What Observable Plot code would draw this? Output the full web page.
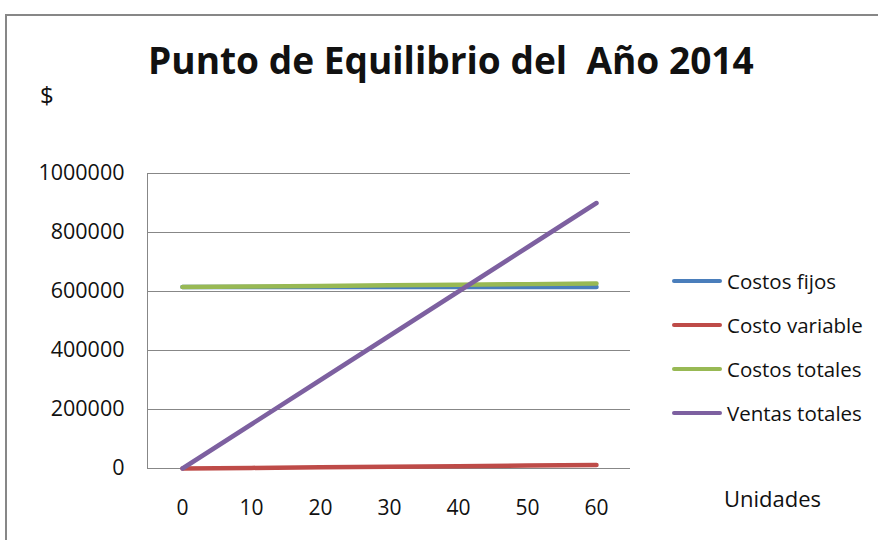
<!DOCTYPE html>
<html>
<head>
<meta charset="utf-8">
<script src="https://cdn.jsdelivr.net/npm/d3@7"></script>
<script src="https://cdn.jsdelivr.net/npm/@observablehq/plot@0.6"></script>
<style>
  body { margin: 0; background: #fff; }
  #wrap { position: relative; width: 878px; height: 540px; overflow: hidden; font-family: "Open Sans", sans-serif; color: #111; }
  #border { position: absolute; left: 5px; top: 14px; width: 900px; height: 600px; border: 2px solid #878787; box-sizing: border-box; }
  #chart { position: absolute; left: 0; top: 0; }
  .txt { position: absolute; white-space: pre; line-height: 1; }
  #title { font-weight: 700; left: 148px; top: 41px; }
  #ylab { left: 40px; top: 83px; font-size: 24px; }
  #xlab { left: 724px; top: 487px; font-size: 22px; }
  .leg { position: absolute; left: 672px; height: 24px; }
  .leg .sw { position: absolute; left: 0; top: 10px; width: 50px; height: 4px; border-radius: 2px; }
  .leg .lt { position: absolute; left: 55px; top: 0; font-size: 20.5px; line-height: 24px; white-space: nowrap; }
</style>
</head>
<body>
<div id="wrap">
  <div id="border"></div>
  <div id="chart"></div>
  <div id="title" class="txt"></div>
  <div id="ylab" class="txt"></div>
  <div id="xlab" class="txt"></div>
  <div id="legend"></div>
</div>
<script>
const titulo = "Punto de Equilibrio del  Año 2014";
const etiquetaY = "$";
const etiquetaX = "Unidades";
const unidades = [0, 10, 20, 30, 40, 50, 60];
const series = ["Costos fijos", "Costo variable", "Costos totales", "Ventas totales"];
const costosFijos = [615000, 615000, 615000, 615000, 615000, 615000, 615000];
const costoVariable = [0, 2000, 4000, 6000, 8000, 10000, 12000];
const costosTotales = [615000, 617000, 619000, 621000, 623000, 625000, 627000];
const ventasTotales = [0, 150000, 300000, 450000, 600000, 750000, 900000];
const colores = ["#4A7EBB", "#BE4B48", "#98B954", "#7D60A0"];
const yTicks = [0, 200000, 400000, 600000, 800000, 1000000];

const valores = [costosFijos, costoVariable, costosTotales, ventasTotales];
const rows = [];
series.forEach((s, k) => unidades.forEach((u, i) => rows.push({serie: s, u, v: valores[k][i]})));

const chart = Plot.plot({
  width: 878,
  height: 540,
  marginLeft: 147,
  marginRight: 248,
  marginTop: 173,
  marginBottom: 72,
  style: {fontFamily: "'Open Sans', sans-serif", background: "transparent", color: "#111"},
  x: {type: "point", domain: unidades, padding: 0.5},
  y: {domain: [0, 1000000]},
  color: {domain: series, range: colores},
  marks: [
    Plot.ruleY(yTicks, {stroke: "#878787", strokeWidth: 1}),
    Plot.frame({anchor: "left", stroke: "#878787", strokeWidth: 1}),
    Plot.axisY(yTicks, {tickSize: 0, tickPadding: 23, fontSize: 21.5, tickFormat: d => String(d), fill: "#111", label: null}),
    Plot.axisX(unidades, {tickSize: 0, tickPadding: 32, fontSize: 21, tickFormat: d => String(d), fill: "#111", label: null}),
    Plot.line(rows, {x: "u", y: "v", z: "serie", stroke: "serie", strokeWidth: 4.5, strokeLinecap: "round", strokeLinejoin: "round"})
  ]
});
document.getElementById("chart").appendChild(chart);

function fit(el, text, target, base) {
  el.textContent = text;
  el.style.fontSize = base + "px";
  const w = el.getBoundingClientRect().width;
  el.style.fontSize = (base * target / w) + "px";
}
fit(document.getElementById("title"), titulo, 606, 40);
document.getElementById("ylab").textContent = etiquetaY;
document.getElementById("xlab").textContent = etiquetaX;

const legendTops = [269, 313, 357, 401];
const legend = document.getElementById("legend");
series.forEach((s, i) => {
  const item = document.createElement("div");
  item.className = "leg";
  item.style.top = legendTops[i] + "px";
  const sw = document.createElement("div");
  sw.className = "sw";
  sw.style.background = colores[i];
  const lt = document.createElement("div");
  lt.className = "lt";
  lt.textContent = s;
  item.appendChild(sw);
  item.appendChild(lt);
  legend.appendChild(item);
});
</script>
</body>
</html>
